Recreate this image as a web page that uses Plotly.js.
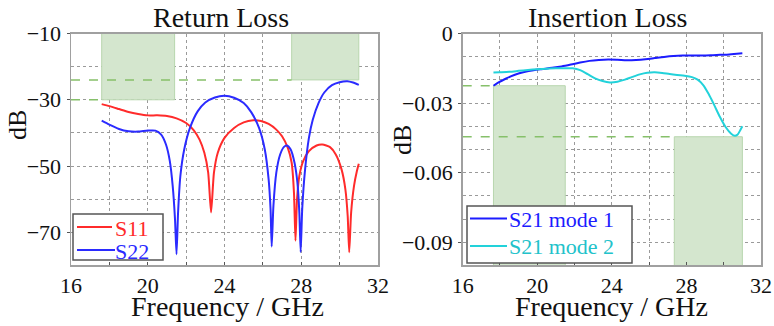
<!DOCTYPE html>
<html><head><meta charset="utf-8">
<script src="https://cdn.plot.ly/plotly-3.0.1.min.js"></script>
<style>html,body{margin:0;padding:0;background:#fff}#c{width:774px;height:326px}</style>
</head><body><div id="c"></div>
<script>
// ---- Return loss data ----
const s11Freq = [17.6,18.0,18.5,19.0,19.5,20.0,20.5,21.0,21.5,22.0,22.4,22.7,22.95,23.15,23.3,23.45,23.65,24.0,24.5,25.0,25.5,25.9,26.3,26.7,27.0,27.3,27.5,27.62,27.7,27.78,27.9,28.1,28.4,28.8,29.1,29.5,29.8,30.1,30.3,30.42,30.5,30.6,30.75,30.9,31.0];
const s11Val  = [-31.3,-31.9,-32.8,-33.7,-34.3,-34.7,-34.7,-34.9,-35.6,-37.0,-39.2,-42,-46,-52,-64,-52,-46,-41.5,-38.5,-36.8,-36.2,-36.4,-37.3,-39,-41,-44.5,-49,-58,-72.5,-60,-53,-48.5,-45.5,-43.8,-43.5,-44.3,-46.5,-51,-57,-65,-76,-64,-56,-51.5,-49.3];
const s22Freq = [17.6,18.0,18.5,19.0,19.5,20.0,20.4,20.7,20.95,21.15,21.3,21.42,21.5,21.58,21.7,21.9,22.2,22.6,23.0,23.5,24.0,24.5,25.0,25.4,25.8,26.1,26.3,26.4,26.46,26.55,26.7,26.9,27.1,27.25,27.45,27.65,27.8,27.9,27.97,28.05,28.2,28.4,28.6,28.9,29.2,29.6,30.0,30.4,30.7,31.0];
const s22Val  = [-36.3,-37.5,-38.8,-39.5,-39.6,-39.3,-39.3,-40.5,-43.5,-48.5,-56,-66,-76.6,-64,-53,-45,-38.5,-33.5,-30.8,-29.3,-28.8,-29.4,-31,-33.8,-38.5,-45,-54,-63,-74.3,-62,-52,-46.5,-44.2,-43.8,-45,-49,-55,-64,-75.9,-63,-51,-41.5,-36,-31,-27.8,-25.6,-24.7,-24.4,-24.8,-25.5];
// ---- Insertion loss data ----
const m1Freq = [17.65,17.9,18.3,18.8,19.3,19.8,20.3,20.8,21.3,21.8,22.3,22.8,23.3,23.8,24.3,24.8,25.3,25.8,26.3,26.8,27.3,27.8,28.3,28.8,29.3,29.8,30.3,30.7,31.0];
const m1Val  = [-0.0225,-0.0212,-0.0195,-0.0178,-0.0166,-0.0158,-0.0153,-0.0148,-0.0142,-0.0134,-0.0125,-0.0118,-0.0114,-0.0112,-0.0113,-0.0115,-0.0114,-0.0111,-0.0106,-0.0101,-0.0097,-0.0095,-0.0095,-0.0095,-0.0094,-0.0092,-0.0090,-0.0087,-0.0085];
const m2Freq = [17.65,18.0,18.5,19.0,19.5,20.0,20.5,21.0,21.5,21.9,22.3,22.7,23.1,23.5,23.9,24.3,24.7,25.1,25.5,25.9,26.3,26.7,27.1,27.5,27.9,28.3,28.6,28.9,29.2,29.5,29.8,30.1,30.4,30.6,30.75,30.9,31.0];
const m2Val  = [-0.0168,-0.0167,-0.0165,-0.0161,-0.0157,-0.0154,-0.0152,-0.0150,-0.0150,-0.0150,-0.0158,-0.0175,-0.0193,-0.0205,-0.0211,-0.0208,-0.0199,-0.0187,-0.0176,-0.0169,-0.0167,-0.0170,-0.0175,-0.0179,-0.0182,-0.0188,-0.0199,-0.0222,-0.0262,-0.0310,-0.0360,-0.0403,-0.0432,-0.0441,-0.0435,-0.0415,-0.0400];
// ---- Spec masks ----
const rlBandStart = [17.6, 27.5];
const rlBandEnd   = [21.4, 31.0];
const rlBandLevel = [-30, -24];   // mask bottom (mask goes up to -10)
const ilBandStart = [17.65, 27.35];
const ilBandEnd   = [21.5, 31.0];
const ilBandLevel = [-0.0225, -0.0445]; // mask top (mask goes down to -0.1)
// ---- Legend labels ----
const rlNames = ['S11', 'S22'];
const ilNames = ['S21 mode 1', 'S21 mode 2'];

const serif = 'Liberation Serif';
const bandFill = '#d4e6ce', bandLine = '#b8d6ae', dashCol = '#86c06a';
const colS11 = '#ff2b2b', colS22 = '#2b2bff', colM1 = '#1c1cff', colM2 = '#22d2da', colM2txt = '#22c2ca';

const traces = [
  {x:s11Freq, y:s11Val, xaxis:'x', yaxis:'y', mode:'lines', line:{color:colS11, width:2, shape:'spline', smoothing:0.6}, name:rlNames[0], showlegend:false},
  {x:s22Freq, y:s22Val, xaxis:'x', yaxis:'y', mode:'lines', line:{color:colS22, width:2, shape:'spline', smoothing:0.6}, name:rlNames[1], showlegend:false},
  {x:m1Freq, y:m1Val, xaxis:'x2', yaxis:'y2', mode:'lines', line:{color:colM1, width:2, shape:'spline', smoothing:0.8}, name:ilNames[0], showlegend:false},
  {x:m2Freq, y:m2Val, xaxis:'x2', yaxis:'y2', mode:'lines', line:{color:colM2, width:2, shape:'spline', smoothing:0.8}, name:ilNames[1], showlegend:false}
];

const shapes = [];
rlBandStart.forEach((x0,i)=>{
  shapes.push({type:'rect', xref:'x', yref:'y', x0:x0, x1:rlBandEnd[i], y0:rlBandLevel[i], y1:-10, fillcolor:bandFill, line:{color:bandLine,width:1}, layer:'between'});
  shapes.push({type:'line', xref:'x', yref:'y', x0:16, x1:x0, y0:rlBandLevel[i], y1:rlBandLevel[i], line:{color:dashCol,width:1.5,dash:'dash'}, layer:'above'});
});
ilBandStart.forEach((x0,i)=>{
  shapes.push({type:'rect', xref:'x2', yref:'y2', x0:x0, x1:ilBandEnd[i], y0:-0.1, y1:ilBandLevel[i], fillcolor:bandFill, line:{color:bandLine,width:1}, layer:'between'});
  shapes.push({type:'line', xref:'x2', yref:'y2', x0:16, x1:x0, y0:ilBandLevel[i], y1:ilBandLevel[i], line:{color:dashCol,width:1.5,dash:'dash'}, layer:'above'});
});

// legend boxes (paper pixel helpers)
const px = v => v/774, py = v => 1 - v/326;
function legendBox(x0,y0,x1,y1){ shapes.push({type:'rect', xref:'paper', yref:'paper', x0:px(x0), x1:px(x1), y0:py(y1), y1:py(y0), fillcolor:'#fff', line:{color:'#555',width:1.5}, layer:'above'}); }
function legendLine(x0,x1,y,c){ shapes.push({type:'line', xref:'paper', yref:'paper', x0:px(x0), x1:px(x1), y0:py(y), y1:py(y), line:{color:c,width:2}, layer:'above'}); }
legendBox(73,214,163,260); legendLine(77,112,227,colS11); legendLine(77,115,250,colS22);
legendBox(467,206,632,263); legendLine(470,507,218.5,colM1); legendLine(470,507,246,colM2);

function xax(dom, anchor){
  return {domain:dom, anchor:anchor, range:[16,32], tick0:16, dtick:4, showgrid:true, gridcolor:'#9a9a9a', griddash:'dot', gridwidth:1,
    minor:{dtick:2, showgrid:true, gridcolor:'#9a9a9a', griddash:'dot', ticks:'inside', ticklen:3, tickcolor:'#555'},
    ticks:'inside', ticklen:3, tickcolor:'#555',
    showline:true, mirror:true, linecolor:'#a0a0a0', linewidth:1.5, zeroline:false,
    tickfont:{family:serif, size:22, color:'#111'}, ticklabelstandoff:0, fixedrange:true};
}
function yax(range, tick0, dtick, mdt, anchor){
  return {domain:[0.1856,0.8972], anchor:anchor, range:range, tick0:tick0, dtick:dtick, showgrid:true, gridcolor:'#9a9a9a', griddash:'dot', gridwidth:1,
    minor:{dtick:mdt, showgrid:true, gridcolor:'#9a9a9a', griddash:'dot'},
    ticks:'outside', ticklen:3, tickcolor:'#555', showline:true, mirror:true, linecolor:'#a0a0a0', linewidth:1.5, zeroline:false,
    tickfont:{family:serif, size:22, color:'#111'}, ticklabelstandoff:1, fixedrange:true};
}

const ann = (text,x,y,size,rot,anchor,color)=>({text:text, xref:'paper', yref:'paper', x:x/774, y:1-y/326, xanchor:anchor||'center', yanchor:'middle', showarrow:false, textangle:rot||0, font:{family:serif, size:size, color:color||'#111'}});

const layout = {
  width:774, height:326, margin:{l:0,r:0,t:0,b:0}, paper_bgcolor:'#fff', plot_bgcolor:'#fff', showlegend:false,
  font:{family:serif, color:'#111'},
  xaxis: xax([71/774, 378/774], 'y'),
  yaxis: yax([-80,-10], -10, 20, 10, 'x'),
  xaxis2: xax([462.7/774, 761/774], 'y2'),
  yaxis2: yax([-0.1,0], 0, 0.03, 0.01, 'x2'),
  shapes:shapes,
  annotations:[
    ann('Return Loss', 221, 17, 28),
    ann('Insertion Loss', 607, 17, 28),
    ann('Frequency / GHz', 227, 306, 28),
    ann('Frequency / GHz', 611, 306, 28),
    ann('dB', 17, 125, 26, -90),
    ann('dB', 402, 140, 26, -90),
    ann(rlNames[0], 113, 228, 22, 0, 'left', colS11),
    ann(rlNames[1], 113, 251, 22, 0, 'left', colS22),
    ann(ilNames[0], 507, 219, 22, 0, 'left', colM1),
    ann(ilNames[1], 507, 246, 22, 0, 'left', colM2txt)
  ]
};
Plotly.newPlot('c', traces, layout, {staticPlot:true, displayModeBar:false});
</script></body></html>
